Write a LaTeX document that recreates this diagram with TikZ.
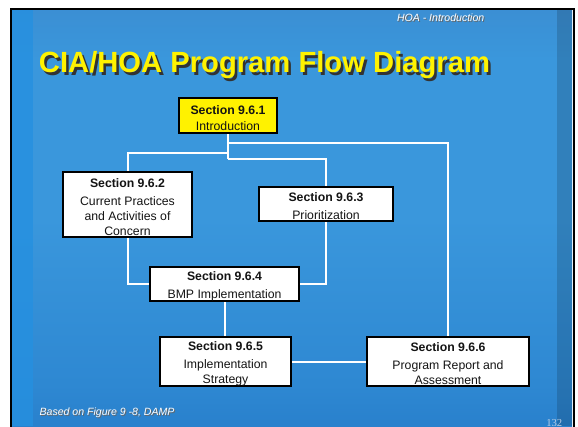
\documentclass[tikz,border=0pt]{standalone}
\usepackage{fontspec}
\setmainfont{Liberation Sans}
\newfontfamily\pagefont{Liberation Serif}
\usepackage{tikz}
\usetikzlibrary{calc,positioning}
\definecolor{seatop}{HTML}{4A74AC}
\definecolor{seaupper}{HTML}{3C80C4}
\definecolor{seamid}{HTML}{3A97DC}
\definecolor{sealow}{HTML}{2E88D2}
\definecolor{seadeep}{HTML}{1A6BBD}
\definecolor{seabot}{HTML}{1356A5}
\definecolor{seastrip}{HTML}{2590E0}
\definecolor{boxtext}{HTML}{141414}
\pgfdeclareverticalshading{sea}{100bp}{color(0bp)=(seabot); color(11bp)=(seadeep); color(30bp)=(sealow);
  color(50bp)=(seamid); color(69bp)=(seamid); color(86bp)=(seaupper); color(100bp)=(seatop)}
\newcommand{\secthead}[1]{\rule{0pt}{10.3pt}\textbf{#1}}

\begin{document}
\begin{tikzpicture}[x=0.75pt,y=-0.75pt,
  sect/.style={draw=black,line width=1.5pt,fill=white,align=center,inner sep=0pt,text=boxtext,
    font=\fontsize{9.2}{11.3}\selectfont},
  wire/.style={white,line width=1.5pt},
  caption/.style={font=\fontsize{7.9}{9}\selectfont\itshape}]
\useasboundingbox (0,0) rectangle (578,426);
\fill[white] (0,0) rectangle (578,426);
\shade[shading=sea] (12,10) rectangle (572,426);
\fill[seastrip,opacity=0.8] (12,10) rectangle (33,426);
\fill[black,opacity=0.15] (557,10) rectangle (572,426);
\draw[black,line width=1.5pt] (11,440) -- (11,9) -- (573.5,9) -- (573.5,440);

\node[caption,anchor=base east,text=black!60] at (490,22.5) {HOA - Introduction};
\node[caption,anchor=base east,text=white] (hdr) at (489,21.5) {HOA - Introduction};
\node[anchor=base,font=\fontsize{21.9}{24}\selectfont\bfseries,text=black!80] at (267,75) {CIA/HOA Program Flow Diagram};
\node[anchor=base,font=\fontsize{21.9}{24}\selectfont\bfseries,text=yellow] (title) at (264.5,72.5) {CIA/HOA Program Flow Diagram};

\node[sect,fill=yellow,minimum width=73.5pt,minimum height=26.25pt] (intro) at (228,115.5)
  {\secthead{Section 9.6.1}\\[1pt]Introduction};
\node[sect,minimum width=96.75pt,minimum height=48.75pt] (practices) at (127.5,204.7)
  {\secthead{Section 9.6.2}\\[2pt]Current Practices\\and Activities of\\Concern};
\node[sect,minimum width=100.5pt,minimum height=25.5pt] (prior) at (326,204)
  {\secthead{Section 9.6.3}\\[2pt]Prioritization};
\node[sect,minimum width=111.75pt,minimum height=25.5pt] (bmp) at (224.5,284)
  {\secthead{Section 9.6.4}\\[2pt]BMP Implementation};
\node[sect,minimum width=98.25pt,minimum height=36.75pt] (strategy) at (225.5,361.5)
  {\secthead{Section 9.6.5}\\[2pt]Implementation\\Strategy};
\node[sect,minimum width=121.5pt,minimum height=36.75pt] (report) at (448,361.5)
  {\secthead{Section 9.6.6}\\[2pt]Program Report and\\Assessment};

\draw[wire] (intro.south) -- ++(0,25);
\draw[wire] ($(intro.south)+(0,9)$) -| (report.north);
\draw[wire] ($(intro.south)+(0,19)$) -| (practices.north);
\draw[wire] ($(intro.south)+(0,25)$) -| (prior.north);
\draw[wire] (practices.south) |- (bmp.west);
\draw[wire] (prior.south) |- (bmp.east);
\draw[wire] (bmp.south) -- (bmp.south |- strategy.north);
\draw[wire] (strategy.east) -- (report.west);

\node[caption,anchor=base west,text=black!60] at (36,416) {Based on Figure 9 -8, DAMP};
\node[caption,anchor=base west,text=white] (foot) at (35,415) {Based on Figure 9 -8, DAMP};
\node[anchor=base east,font=\pagefont\fontsize{8}{9}\selectfont,text=white!70!seabot] (page) at (567,426) {132};
\end{tikzpicture}
\end{document}
